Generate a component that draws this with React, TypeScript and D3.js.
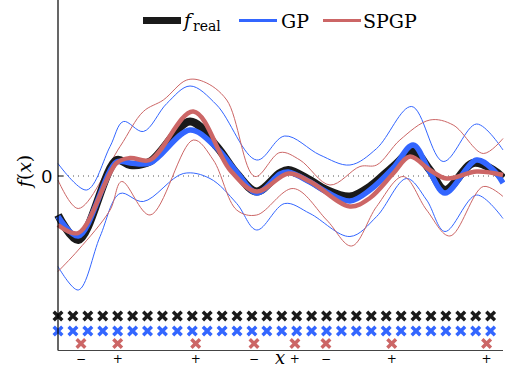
import React from "react";
import * as d3 from "d3";

const W = 505;
const H = 368;

// x positions (data units) and values for each curve
const realX = [0, 1.36, 3.93, 4.83, 6.17, 8.85, 10.64, 11.98, 13.32, 14.88, 15.44, 16.89, 18.01, 19.57, 20.91, 22.47, 23.81, 24.93, 25.94, 27.83, 29.18, 29.83];
const realY = [-0.78, -1.28, 0.32, 0.22, 0.29, 1.09, 0.59, 0.05, -0.31, 0.06, 0.12, -0.08, -0.28, -0.41, -0.21, 0.19, 0.49, 0.12, -0.28, 0.26, 0.12, -0.04];

const gpX = [0, 1.36, 3.93, 4.83, 6.17, 8.85, 10.64, 11.98, 13.32, 14.88, 15.44, 16.89, 18.01, 19.57, 20.91, 22.47, 23.81, 24.93, 25.94, 28.06, 29.18, 29.83];
const gpY = [-0.81, -1.2, 0.28, 0.26, 0.26, 0.92, 0.56, 0.08, -0.34, 0.04, 0.08, -0.12, -0.32, -0.5, -0.28, 0.16, 0.62, 0.08, -0.34, 0.32, 0.12, -0.14];

const gpUpX = [0, 1.92, 3.49, 4.38, 5.72, 7.29, 8.85, 10.64, 13.32, 15.2, 17.56, 19.57, 21.36, 23.71, 25.82, 28.06, 29.83];
const gpUpY = [0.25, -0.28, 0.59, 1.09, 0.89, 1.45, 1.8, 1.42, 0.32, 0.8, 0.42, 0.22, 0.55, 1.39, 0.29, 1.04, 0.52];

const gpLoX = [0, 1.36, 2.82, 4.16, 5.72, 8.4, 10.19, 11.98, 13.32, 15.2, 16.89, 19.57, 21.36, 23.37, 24.71, 25.94, 28.06, 29.83];
const gpLoY = [-1.81, -2.28, -1.21, -0.35, -0.51, 0.05, -0.05, -0.55, -1.08, -0.55, -0.75, -1.21, -0.81, -0.05, -0.48, -1.11, -0.38, -0.85];

const spX = [0, 1.36, 3.93, 4.83, 6.17, 9.07, 11.53, 13.32, 15.44, 16.89, 19.57, 20.91, 22.47, 23.59, 24.93, 26.05, 28.06, 29.83];
const spY = [-0.98, -1.14, 0.26, 0.36, 0.32, 1.29, 0.12, -0.31, 0.05, -0.11, -0.61, -0.44, 0.05, 0.39, 0.12, -0.05, 0.09, 0.02];

const spUpX = [0, 1.36, 4.16, 5.72, 7.06, 8.63, 9.74, 11.31, 13.2, 14.88, 16.22, 18.23, 20.24, 21.36, 22.92, 24.93, 26.49, 28.51, 29.83];
const spUpY = [-0.08, -0.65, 0.59, 1.29, 1.52, 1.92, 1.89, 1.52, -0.01, 0.47, 0.32, -0.18, 0.19, 0.22, 0.72, 1.12, 1.02, 0.45, 0.75];

const spLoX = [0, 1.36, 3.49, 4.27, 6.17, 9.07, 10.41, 11.98, 13.32, 15.77, 18.01, 19.68, 21.36, 23.14, 24.71, 26.27, 28.51, 29.83];
const spLoY = [-1.91, -1.48, -0.68, -0.11, -0.78, 0.72, 0.32, -0.68, -0.78, -0.25, -0.88, -1.4, -0.61, -0.01, -0.68, -1.2, -0.21, -0.41];

// training inputs (30) and pseudo-inputs (8)
const trainX = d3.range(30);
const pseudoX = [1.54, 4.0, 9.23, 13.14, 15.88, 17.96, 22.37, 28.73];
const pseudoSign = ["−", "+", "+", "−", "+", "−", "+", "+"];

const BLACK = "#1a1a1a";
const BLUE = "#3366ff";
const RED = "#cc6666";
const SERIF = "DejaVu Serif";
const SANS = "Liberation Sans";

export default function App() {
  const x = d3.scaleLinear().domain([0, 29.83]).range([58, 503]);
  const y = d3.scaleLinear().domain([-3.5, 3.5]).range([351, 1]);

  const line = (xs: number[], ys: number[]) =>
    d3
      .line<number>()
      .x((_, i) => x(xs[i]))
      .y((v) => y(v))
      .curve(d3.curveCatmullRom.alpha(0.5))(ys) || "";

  const cross = (cx: number, cy: number, s: number) =>
    `M${cx - s},${cy - s}L${cx + s},${cy + s}M${cx - s},${cy + s}L${cx + s},${cy - s}`;

  const rowBlack = 316;
  const rowBlue = 331;
  const rowRed = 343.5;

  return (
    <svg
      width={W}
      height={H}
      style={{ position: "absolute", left: 0, top: 0, display: "block", background: "#fff" }}
    >
      {/* zero dotted line */}
      <line x1={58} x2={503} y1={y(0)} y2={y(0)} stroke="#555" strokeWidth={1} strokeDasharray="1,4" />

      {/* bands */}
      <path d={line(gpUpX, gpUpY)} fill="none" stroke={BLUE} strokeWidth={1} />
      <path d={line(gpLoX, gpLoY)} fill="none" stroke={BLUE} strokeWidth={1} />
      <path d={line(spUpX, spUpY)} fill="none" stroke={RED} strokeWidth={1} />
      <path d={line(spLoX, spLoY)} fill="none" stroke={RED} strokeWidth={1} />

      {/* means */}
      <path d={line(realX, realY)} fill="none" stroke={BLACK} strokeWidth={8} strokeLinejoin="round" />
      <path d={line(gpX, gpY)} fill="none" stroke={BLUE} strokeWidth={5.5} strokeLinejoin="round" />
      <path d={line(spX, spY)} fill="none" stroke={RED} strokeWidth={4.5} strokeLinejoin="round" />

      {/* crosses */}
      {trainX.map((v, i) => (
        <path key={"b" + i} d={cross(x(v), rowBlack, 4.3)} stroke={BLACK} strokeWidth={3.4} fill="none" />
      ))}
      {trainX.map((v, i) => (
        <path key={"u" + i} d={cross(x(v), rowBlue, 4.3)} stroke={BLUE} strokeWidth={3.4} fill="none" />
      ))}
      {pseudoX.map((v, i) => (
        <path key={"r" + i} d={cross(x(v), rowRed, 4.3)} stroke={RED} strokeWidth={3.4} fill="none" />
      ))}

      {/* axes */}
      <line x1={58} x2={58} y1={0} y2={350.5} stroke="#000" strokeWidth={1.2} />
      <line x1={58} x2={503} y1={350.5} y2={350.5} stroke="#444" strokeWidth={1.2} />
      <line x1={58} x2={63} y1={y(0)} y2={y(0)} stroke="#000" strokeWidth={1} />

      {/* tick labels */}
      {pseudoX.map((v, i) => (
        <text
          key={"t" + i}
          x={x(v)}
          y={363}
          textAnchor="middle"
          fontFamily={SERIF}
          fontSize={12}
          fill="#000"
        >
          {pseudoSign[i]}
        </text>
      ))}
      <text x={52} y={183} textAnchor="end" fontFamily={SANS} fontSize={19} fill="#000">
        0
      </text>
      <text x={280} y={364} textAnchor="middle" fontFamily={SERIF} fontStyle="italic" fontSize={18} fill="#000">
        x
      </text>
      <text
        transform={`translate(31,171) rotate(-90)`}
        textAnchor="middle"
        fontFamily={SERIF}
        fontSize={19}
        fill="#000"
      >
        <tspan fontStyle="italic">f</tspan>
        <tspan>(</tspan>
        <tspan fontStyle="italic">x</tspan>
        <tspan>)</tspan>
      </text>

      {/* legend */}
      <line x1={143} x2={181} y1={20.5} y2={20.5} stroke={BLACK} strokeWidth={7} />
      <text x={184} y={27} fontFamily={SERIF} fontSize={19} fill="#000">
        <tspan fontStyle="italic">f</tspan>
        <tspan fontSize={14} dy={4} dx={2}>real</tspan>
      </text>
      <line x1={239} x2={277} y1={20.5} y2={20.5} stroke={BLUE} strokeWidth={3} />
      <text x={281} y={28} fontFamily={SERIF} fontSize={19} fill="#000">
        GP
      </text>
      <line x1={323} x2={361} y1={20.5} y2={20.5} stroke={RED} strokeWidth={3} />
      <text x={363} y={28} fontFamily={SERIF} fontSize={19} fill="#000">
        SPGP
      </text>
    </svg>
  );
}
